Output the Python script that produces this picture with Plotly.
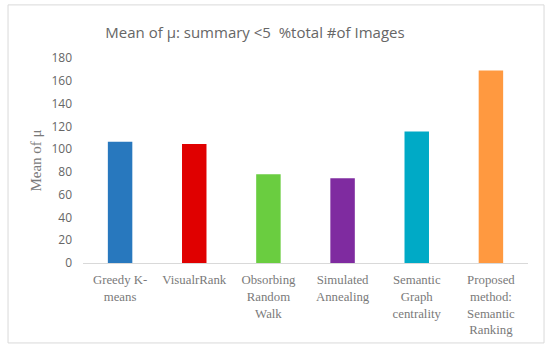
import plotly.graph_objects as go

categories = ["Greedy K-<br>means", "VisualrRank", "Obsorbing<br>Random<br>Walk",
              "Simulated<br>Annealing", "Semantic<br>Graph<br>centrality",
              "Proposed<br>method:<br>Semantic<br>Ranking"]
values = [106.5, 104.5, 78, 74.5, 115.5, 169]
colors = ["#2878BE", "#E00000", "#6ACD40", "#7F2BA0", "#00AAC6", "#FF9940"]
y_ticks = [0, 20, 40, 60, 80, 100, 120, 140, 160, 180]

fig = go.Figure(go.Bar(x=categories, y=values, marker=dict(color=colors, line=dict(width=0)),
                       width=0.33))

fig.update_layout(
    width=550, height=349,
    margin=dict(l=83, r=22, t=58, b=86, autoexpand=False),
    paper_bgcolor="white", plot_bgcolor="white",
    showlegend=False,
    title=dict(text="Mean of μ: summary <5  %total #of Images", xref="paper", x=0.3865,
               xanchor="center", yref="container", y=1 - 33 / 349, yanchor="middle",
               font=dict(family="Open Sans", size=15, color="#666666")),
    xaxis=dict(showgrid=False, showline=True, linecolor="#D9D9D9", linewidth=1, automargin=False,
               ticks="", ticklabelstandoff=5,
               tickfont=dict(family="Liberation Serif", size=12.8, color="#7A7A7A")),
    yaxis=dict(range=[0, 180], tickvals=y_ticks, showgrid=False, showline=False, zeroline=False,
               ticks="", ticklabelstandoff=10, automargin=False,
               tickfont=dict(family="Open Sans", size=12, color="#666666"),
               title=dict(text="Mean of μ", standoff=6,
                          font=dict(family="Liberation Serif", size=15, color="#7A7A7A"))),
    shapes=[dict(type="rect", xref="paper", yref="paper", x0=-0.1685, x1=1.036,
                 y0=-0.39, y1=1.259, line=dict(color="#D9D9D9", width=1))],
)

fig.write_html("out.html", config={"displayModeBar": False},
               post_script="document.body.style.margin='0';document.body.style.overflow='hidden';")
